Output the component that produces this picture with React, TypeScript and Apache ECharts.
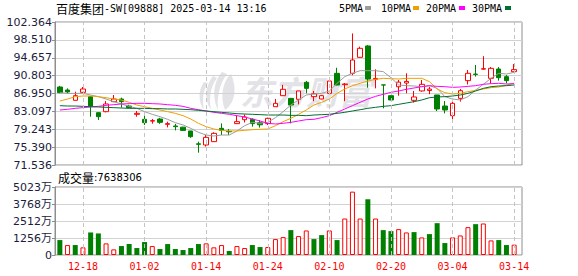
import React, { useEffect, useRef } from "react";
import * as echarts from "echarts";

// ---- data ----
const dates = [
  "2024-12-13", "2024-12-16", "2024-12-17", "2024-12-18", "2024-12-19", "2024-12-20",
  "2024-12-23", "2024-12-24", "2024-12-27", "2024-12-30", "2024-12-31", "2025-01-02",
  "2025-01-03", "2025-01-06", "2025-01-07", "2025-01-08", "2025-01-09", "2025-01-10",
  "2025-01-13", "2025-01-14", "2025-01-15", "2025-01-16", "2025-01-17", "2025-01-20",
  "2025-01-21", "2025-01-22", "2025-01-23", "2025-01-24", "2025-01-27", "2025-01-28",
  "2025-02-03", "2025-02-04", "2025-02-05", "2025-02-06", "2025-02-07", "2025-02-10",
  "2025-02-11", "2025-02-12", "2025-02-13", "2025-02-14", "2025-02-17", "2025-02-18",
  "2025-02-19", "2025-02-20", "2025-02-21", "2025-02-24", "2025-02-25", "2025-02-26",
  "2025-02-27", "2025-02-28", "2025-03-03", "2025-03-04", "2025-03-05", "2025-03-06",
  "2025-03-07", "2025-03-10", "2025-03-11", "2025-03-12", "2025-03-13", "2025-03-14",
];

const opens = [
  88.35, 87.7, 85.48, 87.2, 86.27, 82.82, 83.03, 85.19, 85.76, 84.25,
  82.46, 81.38, 81.0, 81.45, 80.3, 79.95, 79.7, 78.87, 76.1, 75.85,
  76.57, 79.44, 78.8, 80.45, 81.3, 81.38, 80.66, 80.45, 84.11, 86.48,
  85.9, 85.7, 89.36, 86.27, 85.77, 86.98, 91.3, 88.85, 91.3, 94.75,
  97.2, 90.0, 88.8, 86.48, 88.4, 89.2, 85.48, 87.5, 87.6, 86.63,
  84.25, 82.17, 85.9, 89.72, 91.13, 92.2, 90.22, 92.23, 90.58, 91.65,
];
const closes = [
  87.13, 87.3, 86.48, 87.92, 84.25, 81.95, 84.69, 85.76, 85.19, 83.9,
  82.67, 80.66, 81.1, 80.73, 80.45, 79.8, 79.0, 77.64, 76.0, 77.5,
  78.36, 79.0, 78.7, 80.88, 81.9, 80.45, 80.2, 81.6, 84.83, 87.85,
  84.47, 87.5, 88.06, 86.9, 86.48, 89.65, 88.78, 89.0, 94.17, 96.69,
  90.07, 90.2, 88.78, 85.55, 89.4, 89.55, 86.2, 88.93, 87.9, 83.61,
  83.4, 84.83, 87.56, 91.3, 91.07, 92.3, 92.37, 90.36, 89.72, 92.1,
];
const lows = [
  87.0, 86.98, 85.4, 87.1, 81.95, 81.24, 82.9, 85.1, 83.9, 83.8,
  81.95, 80.16, 80.45, 80.4, 79.65, 79.0, 78.95, 77.4, 74.2, 75.5,
  76.5, 78.0, 78.0, 80.4, 80.7, 79.8, 79.6, 80.16, 84.1, 86.4,
  80.5, 84.6, 86.99, 85.3, 85.7, 86.9, 88.7, 85.3, 90.9, 94.7,
  88.2, 88.06, 83.75, 85.5, 86.48, 87.0, 85.0, 87.35, 86.8, 83.17,
  82.67, 81.45, 85.2, 88.9, 90.6, 92.1, 89.14, 89.72, 89.14, 91.65,
];
const highs = [
  88.6, 88.05, 87.35, 88.35, 86.3, 82.9, 85.33, 86.63, 86.05, 84.5,
  83.18, 82.3, 81.45, 81.7, 80.88, 80.4, 79.75, 78.9, 76.57, 78.0,
  78.6, 80.5, 79.3, 82.3, 82.45, 81.6, 81.24, 81.74, 85.76, 88.8,
  85.9, 87.5, 89.65, 87.5, 86.6, 89.65, 92.5, 89.2, 99.9, 97.05,
  97.4, 92.16, 88.8, 86.5, 89.86, 91.3, 87.5, 89.86, 88.4, 86.63,
  85.33, 85.33, 87.92, 92.0, 93.1, 95.0, 92.66, 92.66, 90.94, 93.3,
];
const prevClose = 88.6;

// volume, unit: 万股
const volumes = [
  1103, 735, 735, 566, 1666, 1593, 858, 416, 661, 808,
  514, 955, 661, 441, 808, 441, 367, 514, 808, 858,
  566, 735, 294, 661, 514, 735, 588, 588, 1176, 1323,
  1838, 1397, 1813, 1176, 1470, 1813, 1103, 2695, 4680, 2695,
  4116, 2695, 1838, 1764, 1911, 1666, 1691, 1299, 1544, 2352,
  882, 1299, 1446, 2058, 2279, 2328, 1078, 1103, 735, 763.83,
];

const ma5 = [
  87.13, 86.98, 86.98, 86.98, 86.63, 86.27, 85.76, 85.19, 84.69, 84.18,
  83.75, 83.03, 82.46, 81.96, 81.38, 80.66, 80.16, 79.44, 78.58, 78.0,
  77.79, 78.0, 78.0, 78.87, 80.01, 80.73, 80.52, 80.73, 81.74, 83.03,
  84.47, 85.55, 86.63, 86.84, 86.98, 87.49, 89.14, 90.58, 91.3, 91.87,
  91.87, 91.87, 91.66, 90.36, 88.78, 88.64, 88.57, 88.42, 88.64, 88.06,
  86.27, 85.76, 85.55, 86.27, 87.7, 88.93, 90.22, 91.3, 91.15, 91.51,
];
const ma10 = [
  85.33, 85.76, 86.27, 86.41, 86.41, 86.27, 86.05, 85.76, 85.55, 85.05,
  84.47, 84.11, 83.75, 83.39, 83.03, 82.67, 82.17, 81.45, 80.52, 79.8,
  79.3, 79.01, 78.87, 78.87, 79.01, 79.15, 79.23, 79.3, 80.01, 80.88,
  81.6, 82.46, 83.39, 84.47, 85.05, 85.76, 86.98, 87.92, 88.64, 89.14,
  89.64, 90.0, 90.22, 90.15, 90.08, 90.22, 90.22, 90.22, 89.5, 87.92,
  87.13, 86.84, 86.98, 87.35, 87.63, 87.92, 88.21, 88.35, 88.71, 89.21,
];
const ma20 = [
  83.39, 83.54, 83.75, 83.9, 84.04, 84.18, 84.4, 84.54, 84.69, 84.76,
  84.83, 84.83, 84.76, 84.69, 84.54, 84.4, 84.18, 83.75, 83.46, 83.18,
  82.89, 82.67, 82.46, 82.17, 81.88, 81.45, 81.02, 80.52, 80.38, 80.52,
  80.73, 81.02, 81.31, 81.38, 81.74, 82.17, 82.89, 83.61, 84.33, 85.05,
  85.76, 86.34, 86.77, 87.2, 87.49, 87.85, 88.14, 88.42, 88.64, 88.49,
  88.42, 88.28, 88.35, 88.49, 88.64, 88.93, 89.07, 89.14, 89.0, 89.07,
];
const ma30 = [
  84.33, 84.25, 84.25, 84.18, 84.11, 84.04, 83.97, 83.9, 83.82, 83.75,
  83.75, 83.75, 83.68, 83.68, 83.61, 83.61, 83.54, 83.46, 83.32, 83.18,
  83.03, 82.89, 82.75, 82.6, 82.53, 82.46, 82.39, 82.31, 82.31, 82.31,
  82.24, 82.24, 82.17, 82.31, 82.39, 82.46, 82.67, 82.89, 83.18, 83.46,
  83.75, 83.97, 84.18, 84.33, 84.61, 84.9, 85.19, 85.55, 86.05, 86.2,
  86.27, 86.41, 86.63, 86.98, 87.49, 88.06, 88.42, 88.57, 88.64, 88.78,
];

const priceTicks = ["71.536", "75.390", "79.243", "83.097", "86.950", "90.803", "94.657", "98.510", "102.364"];
const priceMin = 71.536;
const priceMax = 102.364;
const volTicks = ["0", "1256万", "2512万", "3768万", "5023万"];
const volMax = 5023;
const labelDates = ["2024-12-18", "2025-01-02", "2025-01-14", "2025-01-24", "2025-02-10", "2025-02-20", "2025-03-04", "2025-03-14"];

const maNames = ["5PMA", "10PMA", "20PMA", "30PMA"];
const maColors = ["#9c9c9c", "#f0a000", "#ff00ff", "#006f30"];
const maData = [ma5, ma10, ma20, ma30];

const title = "百度集团-SW[09888] 2025-03-14 13:16";
const volTitle = "成交量";
const volNow = "7638306";
const watermark = "东方财富";

// ---- styles ----
const FRAME = "#8e8e8e";
const SPLIT = "#d2d2d2";
const DASH = "#c4c4c4";
const UP = "#ff0000";
const DOWN = "#008000";
const LABEL = "#1c1c3c";
const WM = "#e2e2e7";
const MONO = "'DejaVu Sans Mono', 'Liberation Mono', monospace";
const SANS = "'DejaVu Sans', 'Noto Sans CJK SC', sans-serif";
const CJK = "'Noto Sans CJK SC', sans-serif";

// watermark logo (stylised feather of curved stripes)
const LOGO_PATH =
  "M6 10 C0 18 0 30 6 38 C4 28 5 18 10 11 Z " +
  "M15 4 C7 14 6 28 13 38 C11 27 12 15 19 6 Z " +
  "M24 0 C15 10 14 26 20 38 C19 26 21 12 29 2 Z " +
  "M33 2 C24 10 22 26 27 38 C36 32 40 18 33 2 Z";
let logoRegistered = false;
function ensureLogo() {
  if (logoRegistered) return;
  echarts.graphic.registerShape("logo", (echarts.graphic as any).extendPath(LOGO_PATH, {}));
  logoRegistered = true;
}

function buildOption() {
  const candleData = opens.map((o, i) => [o, closes[i], lows[i], highs[i]]);
  const volData = volumes.map((v, i) => {
    const prev = i === 0 ? prevClose : closes[i - 1];
    const up = closes[i] >= prev;
    return {
      value: v,
      itemStyle: up
        ? { color: "#ffffff", borderColor: UP, borderWidth: 1 }
        : { color: DOWN, borderColor: DOWN, borderWidth: 0 },
    };
  });
  const dashLines = {
    silent: true,
    symbol: ["none", "none"],
    label: { show: false },
    lineStyle: { color: DASH, type: [4, 3], width: 1 },
    emphasis: { disabled: true },
    data: labelDates.map((d) => ({ xAxis: d })),
  };

  const yLabel = {
    color: LABEL,
    fontFamily: SANS,
    fontSize: 11,
    margin: 3,
  };

  const legendItems: any[] = [];
  const legendX = [339, 381, 426, 472];
  const swatchX = [365, 413, 459, 505];
  maNames.forEach((n, k) => {
    legendItems.push({
      type: "text",
      x: legendX[k],
      y: 8,
      style: { text: n, fill: "#000", font: `10px ${MONO}`, verticalAlign: "middle" },
    });
    legendItems.push({
      type: "rect",
      shape: { x: swatchX[k], y: 6, width: 6, height: 4 },
      style: { fill: maColors[k] },
    });
  });

  return {
    animation: false,
    backgroundColor: "#ffffff",
    grid: [
      { left: 55, right: 56, top: 22, height: 143, show: true, borderColor: FRAME, borderWidth: 1 },
      { left: 56, width: 462, top: 22, height: 143 },
      { left: 55, right: 56, top: 187, height: 68, show: true, borderColor: FRAME, borderWidth: 1 },
      { left: 56, width: 462, top: 187, height: 68 },
    ],
    xAxis: [
      { type: "value", gridIndex: 0, min: 0, max: 1, show: false },
      { type: "category", gridIndex: 1, data: dates, boundaryGap: true, show: false },
      { type: "value", gridIndex: 2, min: 0, max: 1, show: false },
      {
        type: "category",
        gridIndex: 3,
        data: dates,
        boundaryGap: true,
        axisLine: { show: false },
        axisTick: { show: false },
        splitLine: { show: false },
        axisLabel: {
          interval: (_i: number, v: string) => labelDates.includes(v),
          formatter: (v: string) => v.slice(5),
          color: UP,
          fontFamily: MONO,
          fontSize: 10,
          margin: 6,
          hideOverlap: false,
        },
      },
    ],
    yAxis: [
      {
        type: "value",
        gridIndex: 0,
        min: 0,
        max: 8,
        interval: 1,
        axisLine: { show: true, lineStyle: { color: FRAME } },
        axisTick: { show: true, length: 3, lineStyle: { color: FRAME } },
        axisLabel: { ...yLabel, formatter: (v: number) => priceTicks[Math.round(v)] },
        splitLine: { show: true, lineStyle: { color: SPLIT, width: 1 } },
      },
      { type: "value", gridIndex: 1, min: priceMin, max: priceMax, show: false, splitLine: { show: false } },
      {
        type: "value",
        gridIndex: 2,
        min: 0,
        max: 4,
        interval: 1,
        axisLine: { show: true, lineStyle: { color: FRAME } },
        axisTick: { show: true, length: 3, lineStyle: { color: FRAME } },
        axisLabel: { ...yLabel, formatter: (v: number) => volTicks[Math.round(v)] },
        splitLine: { show: true, lineStyle: { color: SPLIT, width: 1 } },
      },
      { type: "value", gridIndex: 3, min: 0, max: volMax, show: false, splitLine: { show: false } },
    ],
    series: [
      {
        type: "line",
        name: "grid-main",
        xAxisIndex: 1,
        yAxisIndex: 1,
        data: [],
        z: 1,
        markLine: dashLines,
      },
      {
        type: "line",
        name: "grid-vol",
        xAxisIndex: 3,
        yAxisIndex: 3,
        data: [],
        z: 1,
        markLine: dashLines,
      },
      {
        type: "candlestick",
        name: "K",
        xAxisIndex: 1,
        yAxisIndex: 1,
        data: candleData,
        barWidth: 5,
        z: 3,
        itemStyle: {
          color: "#ffffff",
          color0: DOWN,
          borderColor: UP,
          borderColor0: DOWN,
          borderWidth: 1,
        },
      },
      ...maData.map((d, k) => ({
        type: "line",
        name: maNames[k],
        xAxisIndex: 1,
        yAxisIndex: 1,
        data: d,
        symbol: "none",
        showSymbol: false,
        z: 4,
        lineStyle: { color: maColors[k], width: 1 },
        itemStyle: { color: maColors[k] },
      })),
      {
        type: "bar",
        name: "VOL",
        xAxisIndex: 3,
        yAxisIndex: 3,
        data: volData,
        barWidth: 5,
        z: 3,
      },
    ],
    graphic: [
      {
        type: "logo",
        x: 198,
        y: 72,
        z: -1,
        silent: true,
        style: { fill: WM },
      },
      {
        type: "text",
        x: 240,
        y: 91,
        z: -1,
        silent: true,
        style: {
          text: watermark,
          fill: WM,
          font: `italic bold 33px ${CJK}`,
          verticalAlign: "middle",
        },
      },
      {
        type: "text",
        x: 56,
        y: 8,
        style: {
          text: `{a|${title.slice(0, 4)}}{b|${title.slice(4)}}`,
          verticalAlign: "middle",
          rich: {
            a: { fontSize: 12, fontFamily: CJK, fill: "#000" },
            b: { fontSize: 10, fontFamily: MONO, fill: "#000" },
          },
        },
      },
      {
        type: "text",
        x: 58,
        y: 177,
        style: {
          text: `{a|${volTitle}}{b|:${volNow}}`,
          verticalAlign: "middle",
          rich: {
            a: { fontSize: 12, fontFamily: CJK, fill: "#000" },
            b: { fontSize: 10, fontFamily: SANS, fill: "#000" },
          },
        },
      },
      ...legendItems,
    ],
  };
}

export default function App() {
  const ref = useRef<HTMLDivElement>(null);
  useEffect(() => {
    if (!ref.current) return;
    ensureLogo();
    const chart = echarts.init(ref.current, null, { renderer: "svg", width: 578, height: 276 });
    chart.setOption(buildOption() as any);
    return () => {
      chart.dispose();
    };
  }, []);
  return (
    <div
      ref={ref}
      style={{ position: "fixed", left: 0, top: 0, width: 578, height: 276, background: "#fff" }}
    />
  );
}
